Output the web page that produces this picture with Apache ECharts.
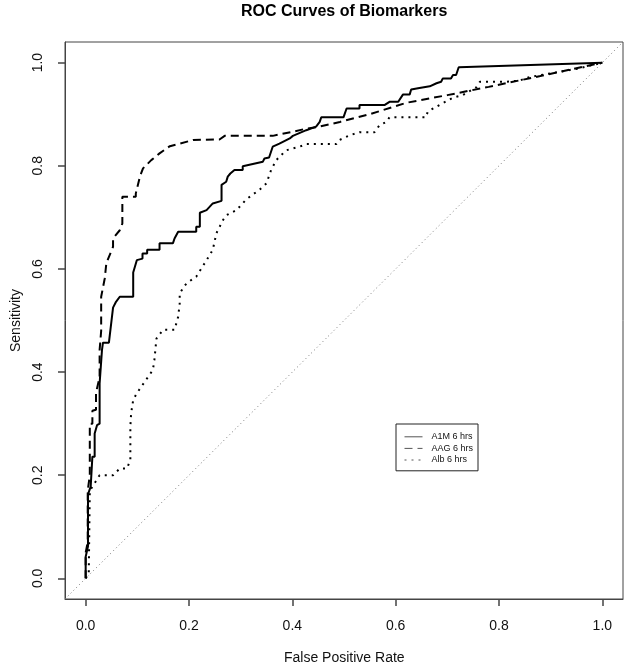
<!DOCTYPE html>
<html><head><meta charset="utf-8">
<script src="https://cdn.jsdelivr.net/npm/echarts@6/dist/echarts.min.js"></script>
<style>html,body{margin:0;padding:0;background:#fff}#c{width:627px;height:666px}</style>
</head><body><div id="c"></div>
<script>
const chartTitle = 'ROC Curves of Biomarkers';
const xTitle = 'False Positive Rate';
const yTitle = 'Sensitivity';
const seriesNames = ['A1M 6 hrs', 'AAG 6 hrs', 'Alb 6 hrs'];
const tickValues = [0, 0.2, 0.4, 0.6, 0.8, 1.0];
const axisRange = [-0.04, 1.04];

const a1mFpr = [0,0,0.0045,0.0045,0.0097,0.013,0.0174,0.0174,0.022,0.027,0.027,0.0316,0.0335,0.045,0.047,0.053,0.058,0.066,0.092,0.092,0.099,0.11,0.11,0.119,0.119,0.143,0.143,0.169,0.172,0.179,0.214,0.214,0.221,0.221,0.234,0.246,0.263,0.263,0.272,0.275,0.28,0.288,0.304,0.304,0.343,0.346,0.355,0.362,0.375,0.395,0.401,0.427,0.446,0.453,0.456,0.499,0.505,0.530,0.530,0.579,0.588,0.605,0.614,0.627,0.63,0.646,0.648,0.666,0.679,0.688,0.691,0.707,0.711,0.717,0.722,1];
const a1mTpr = [0,0.042,0.062,0.163,0.178,0.236,0.236,0.281,0.297,0.30,0.378,0.443,0.457,0.457,0.46,0.525,0.535,0.546,0.546,0.593,0.617,0.62,0.63,0.63,0.637,0.637,0.65,0.65,0.659,0.672,0.672,0.682,0.682,0.709,0.714,0.727,0.732,0.763,0.769,0.779,0.785,0.792,0.792,0.799,0.808,0.814,0.816,0.837,0.843,0.853,0.858,0.869,0.876,0.885,0.894,0.894,0.911,0.911,0.918,0.918,0.924,0.924,0.938,0.938,0.948,0.951,0.954,0.954,0.960,0.963,0.969,0.969,0.976,0.976,0.991,1];

const aagFpr = [0,0,0.004,0.004,0.008,0.008,0.013,0.013,0.02,0.02,0.027,0.027,0.03,0.03,0.037,0.04,0.053,0.053,0.066,0.071,0.071,0.097,0.097,0.105,0.111,0.127,0.143,0.163,0.182,0.208,0.259,0.269,0.362,0.401,0.427,0.453,0.492,0.55,0.62,0.70,0.78,0.88,1];
const aagTpr = [0,0.05,0.07,0.17,0.2,0.30,0.30,0.325,0.327,0.36,0.39,0.443,0.48,0.546,0.582,0.611,0.643,0.659,0.675,0.688,0.740,0.740,0.746,0.779,0.795,0.811,0.824,0.838,0.843,0.850,0.851,0.858,0.858,0.866,0.872,0.876,0.885,0.90,0.922,0.937,0.953,0.974,1];

const albFpr = [0,0.006,0.008,0.017,0.027,0.053,0.066,0.08,0.0865,0.0865,0.088,0.092,0.099,0.117,0.13,0.133,0.137,0.15,0.172,0.179,0.182,0.182,0.195,0.214,0.234,0.246,0.253,0.266,0.272,0.292,0.311,0.337,0.35,0.359,0.369,0.382,0.388,0.414,0.427,0.485,0.491,0.511,0.53,0.559,0.569,0.582,0.588,0.659,0.662,0.685,0.711,0.73,0.756,0.763,0.814,0.839,0.859,0.956,1];
const albTpr = [0,0.01,0.17,0.184,0.2,0.2,0.213,0.213,0.23,0.294,0.32,0.346,0.359,0.385,0.404,0.423,0.465,0.482,0.482,0.507,0.533,0.553,0.572,0.585,0.617,0.637,0.669,0.695,0.704,0.714,0.735,0.754,0.766,0.792,0.811,0.824,0.83,0.837,0.842,0.842,0.85,0.859,0.865,0.865,0.879,0.885,0.894,0.894,0.905,0.918,0.932,0.937,0.952,0.963,0.963,0.965,0.972,0.989,1];

const chanceLine = [-0.04, 1.04];

function zip(xs, ys) { return xs.map((x, i) => [x, ys[i]]); }

const FONT = 'Liberation Sans, Arial, Helvetica, sans-serif';
const chart = echarts.init(document.getElementById('c'));

function axisCommon(isY) {
  return {
    type: 'value',
    min: axisRange[0],
    max: axisRange[1],
    axisLine: {show: true, onZero: false, lineStyle: {color: '#444', width: 1}},
    splitLine: {show: false},
    axisTick: {show: true, customValues: tickValues, length: 7, lineStyle: {color: '#444', width: 1.5}},
    axisLabel: {
      customValues: tickValues,
      formatter: v => v.toFixed(1),
      fontSize: 14, fontFamily: FONT, color: '#111',
      margin: 20,
      rotate: isY ? 90 : 0
    }
  };
}

const xAxis = Object.assign(axisCommon(false), {position: 'bottom'});
const yAxis = Object.assign(axisCommon(true), {position: 'left'});

const lineStyles = [
  {color: '#000', width: 2, type: 'solid'},
  {color: '#000', width: 2, type: [8, 5]},
  {color: '#000', width: 2, type: [2, 5]}
];
const curveData = [zip(a1mFpr, a1mTpr), zip(aagFpr, aagTpr), zip(albFpr, albTpr)];

const series = seriesNames.map((name, i) => ({
  name: name,
  type: 'line',
  data: curveData[i],
  showSymbol: false,
  symbol: 'none',
  lineStyle: lineStyles[i],
  itemStyle: {color: '#000'},
  z: 3 - i
}));
series.push({
  name: 'chance',
  type: 'line',
  data: zip(chanceLine, chanceLine),
  symbol: 'none',
  lineStyle: {color: '#777', width: 1, type: [1, 3]},
  z: 1
});

chart.setOption({
  animation: false,
  backgroundColor: '#fff',
  title: [
    {text: chartTitle, left: 241, top: 4, padding: 0,
     textStyle: {fontSize: 16, fontWeight: 'bold', fontFamily: FONT, color: '#000'}},
    {text: xTitle, left: 284, top: 651, padding: 0,
     textStyle: {fontSize: 14, fontWeight: 'normal', fontFamily: FONT, color: '#111'}}
  ],
  graphic: [{
    type: 'text', x: 16, y: 320.5, rotation: Math.PI / 2,
    style: {text: yTitle, fontSize: 14, fontFamily: FONT, fill: '#111', align: 'center', verticalAlign: 'middle'}
  }],
  grid: {left: 65, right: 4, top: 42, bottom: 67, outerBoundsMode: 'none', show: true, borderColor: '#444', borderWidth: 1},
  xAxis: xAxis,
  yAxis: yAxis,
  legend: {
    data: seriesNames,
    orient: 'vertical',
    left: 396, top: 424,
    padding: [8, 5, 6, 8],
    itemWidth: 18, itemHeight: 12, itemGap: 2,
    borderColor: '#222', borderWidth: 1, backgroundColor: '#fff',
    itemStyle: {opacity: 0},
    lineStyle: {width: 1, color: '#555'},
    textStyle: {fontSize: 9, fontFamily: FONT, color: '#111', padding: [0, 0, 0, 4]},
    selectedMode: false
  },
  series: series
});
</script></body></html>
